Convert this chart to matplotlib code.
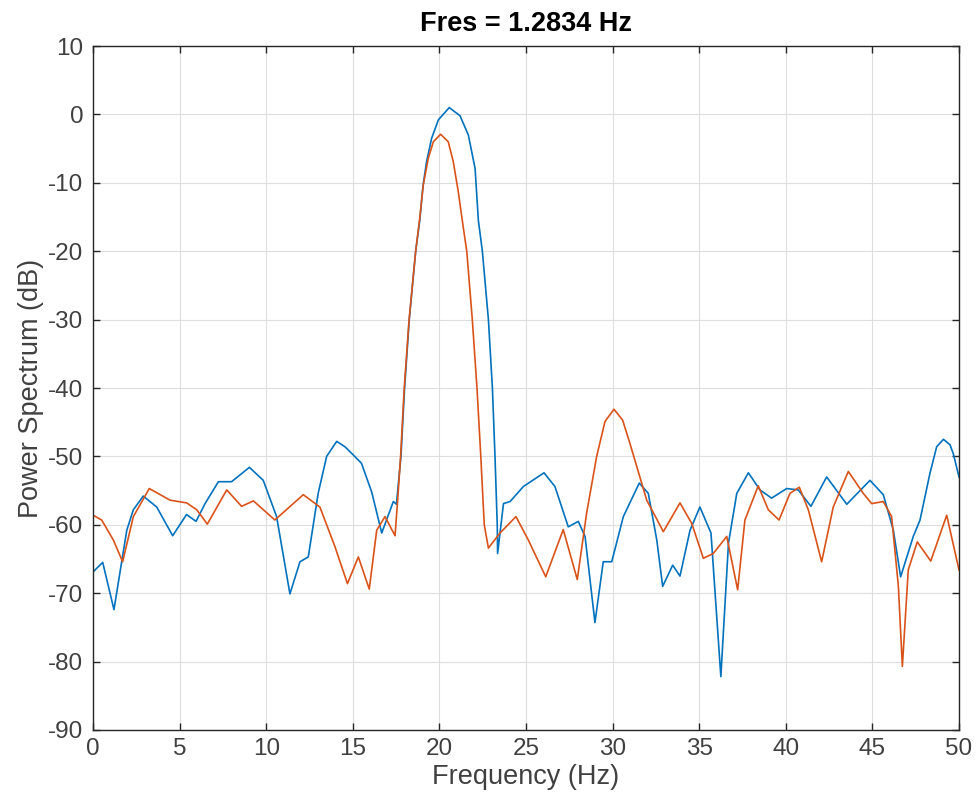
import matplotlib
matplotlib.use("Agg")
import matplotlib.pyplot as plt

# --- data (frequency in Hz, power in dB) --------------------------------------
blue_f = [0.0, 0.56, 1.21, 1.95, 2.33, 2.9, 3.68, 4.6, 5.4, 5.95, 6.47, 7.24,
          8.0, 9.03, 9.83, 10.6, 11.37, 11.95, 12.43, 13.0, 13.49, 14.07,
          14.55, 15.03, 15.5, 16.09, 16.67, 17.34, 17.52, 17.78, 17.99,
          18.26, 18.63, 18.87, 19.05, 19.26, 19.55, 19.94, 20.57, 21.19, 21.67,
          22.06, 22.25, 22.48, 22.83, 23.06, 23.21, 23.34, 23.36, 23.7, 24.08,
          24.85, 26.04, 26.67, 27.44, 28.02, 28.41, 28.98, 29.46, 29.95, 30.62,
          31.54, 32.06, 32.55, 32.89, 33.47, 33.89, 34.47, 35.04, 35.68, 36.25,
          36.69, 37.17, 37.84, 38.51, 39.18, 40.05, 40.72, 41.45, 42.36, 43.52,
          44.86, 45.63, 46.21, 46.63, 47.36, 47.75, 48.32, 48.71, 49.1, 49.48,
          49.67, 50.0]
blue_db = [-66.9, -65.5, -72.4, -60.8, -57.8, -55.8, -57.4, -61.6, -58.5, -59.5,
           -56.9, -53.7, -53.7, -51.6, -53.5, -58.8, -70.1, -65.4, -64.7, -55.4,
           -50.0, -47.8, -48.6, -49.8, -51.0, -55.2, -61.2, -56.6, -57.0, -50.0,
           -40.0, -30.0, -20.0, -15.4, -10.5, -6.9, -3.5, -0.8, 1.0, -0.2, -3.0,
           -7.9, -15.5, -20.0, -30.0, -40.0, -50.0, -60.0, -64.2, -56.9, -56.6,
           -54.4, -52.4, -54.4, -60.3, -59.5, -61.7, -74.3, -65.4, -65.4, -58.8,
           -53.9, -55.4, -62.2, -69.0, -65.9, -67.5, -60.8, -57.4, -61.2, -82.2,
           -62.7, -55.4, -52.4, -54.9, -56.1, -54.7, -54.9, -57.3, -53.0, -57.0,
           -53.5, -55.6, -60.8, -67.6, -61.7, -59.3, -52.5, -48.6, -47.5, -48.3,
           -49.6, -53.0]

orange_f = [0.0, 0.5, 1.17, 1.71, 2.33, 3.25, 4.45, 5.41, 5.99, 6.6, 7.72, 8.58,
            9.26, 10.5, 12.14, 13.1, 13.97, 14.69, 15.32, 15.95, 16.38, 16.86,
            17.44, 17.6, 17.76, 17.97, 18.25, 18.63, 18.85, 19.07, 19.36, 19.65,
            20.07, 20.51, 20.8, 21.09, 21.32, 21.58, 21.9, 22.17, 22.39, 22.59,
            22.83, 23.5, 24.42, 25.13, 26.14, 27.15, 27.96, 28.5, 29.08, 29.56,
            30.08, 30.58, 31.0, 31.97, 32.93, 33.89, 34.57, 35.24, 35.81, 36.59,
            37.22, 37.64, 38.41, 38.99, 39.61, 40.24, 40.78, 41.3, 42.07, 42.74,
            43.61, 44.47, 44.96, 45.63, 46.11, 46.5, 46.73, 47.07, 47.59, 48.37,
            49.29, 50.0]
orange_db = [-58.6, -59.3, -62.2, -65.4, -58.8, -54.7, -56.4, -56.8, -57.8, -59.9,
             -54.9, -57.3, -56.5, -59.3, -55.6, -57.4, -63.2, -68.6, -64.7, -69.4,
             -60.8, -58.8, -61.6, -56.0, -50.0, -40.0, -30.0, -20.0, -15.5, -10.3,
             -6.4, -4.0, -2.9, -4.0, -6.9, -11.3, -15.5, -20.0, -30.0, -40.0,
             -50.0, -60.0, -63.4, -61.2, -58.8, -62.2, -67.6, -60.7, -68.0, -58.3,
             -50.0, -44.9, -43.1, -44.7, -48.1, -56.4, -61.0, -56.8, -59.8, -64.9,
             -64.2, -61.7, -69.5, -59.3, -54.3, -57.8, -59.3, -55.4, -54.5, -57.8,
             -65.4, -57.4, -52.2, -55.4, -56.9, -56.6, -58.8, -69.0, -80.7, -66.6,
             -62.5, -65.3, -58.6, -66.6]

fres = 1.2834
x_ticks = list(range(0, 51, 5))
y_ticks = list(range(-90, 11, 10))

# --- MATLAB-like look ----------------------------------------------------------
plt.rcParams["font.family"] = ["Liberation Sans", "DejaVu Sans"]
plt.rcParams["axes.unicode_minus"] = False
dark = "#262626"

fig = plt.figure(figsize=(9.79, 8.11), dpi=100)
ax = fig.add_axes([93 / 979, 1 - 730 / 811, (959 - 93) / 979, (730 - 46) / 811])

ax.plot(blue_f, blue_db, color="#0072BD", lw=1.2)
ax.plot(orange_f, orange_db, color="#D95319", lw=1.2)

ax.set_xlim(0, 50)
ax.set_ylim(-90, 10)
ax.set_xticks(x_ticks)
ax.set_yticks(y_ticks)
ax.grid(True, color="#dedede", lw=0.8)
ax.set_axisbelow(True)

for s in ax.spines.values():
    s.set_color(dark)
    s.set_linewidth(1.0)
ax.tick_params(direction="in", length=5, width=1.0, color=dark,
               top=True, right=True, labelcolor="#404040", labelsize=17.5)
ax.tick_params(axis="x", pad=6)
ax.tick_params(axis="y", pad=7)

ax.set_xlabel("Frequency (Hz)", fontsize=19.5, color="#404040", labelpad=3)
ax.set_ylabel("Power Spectrum (dB)", fontsize=19.5, color="#404040", labelpad=3)
ax.set_title(f"Fres = {fres:.4f} Hz", fontsize=19.5, fontweight="bold",
             color="black", pad=11)

fig.savefig("out.png", dpi=100, facecolor="white")
